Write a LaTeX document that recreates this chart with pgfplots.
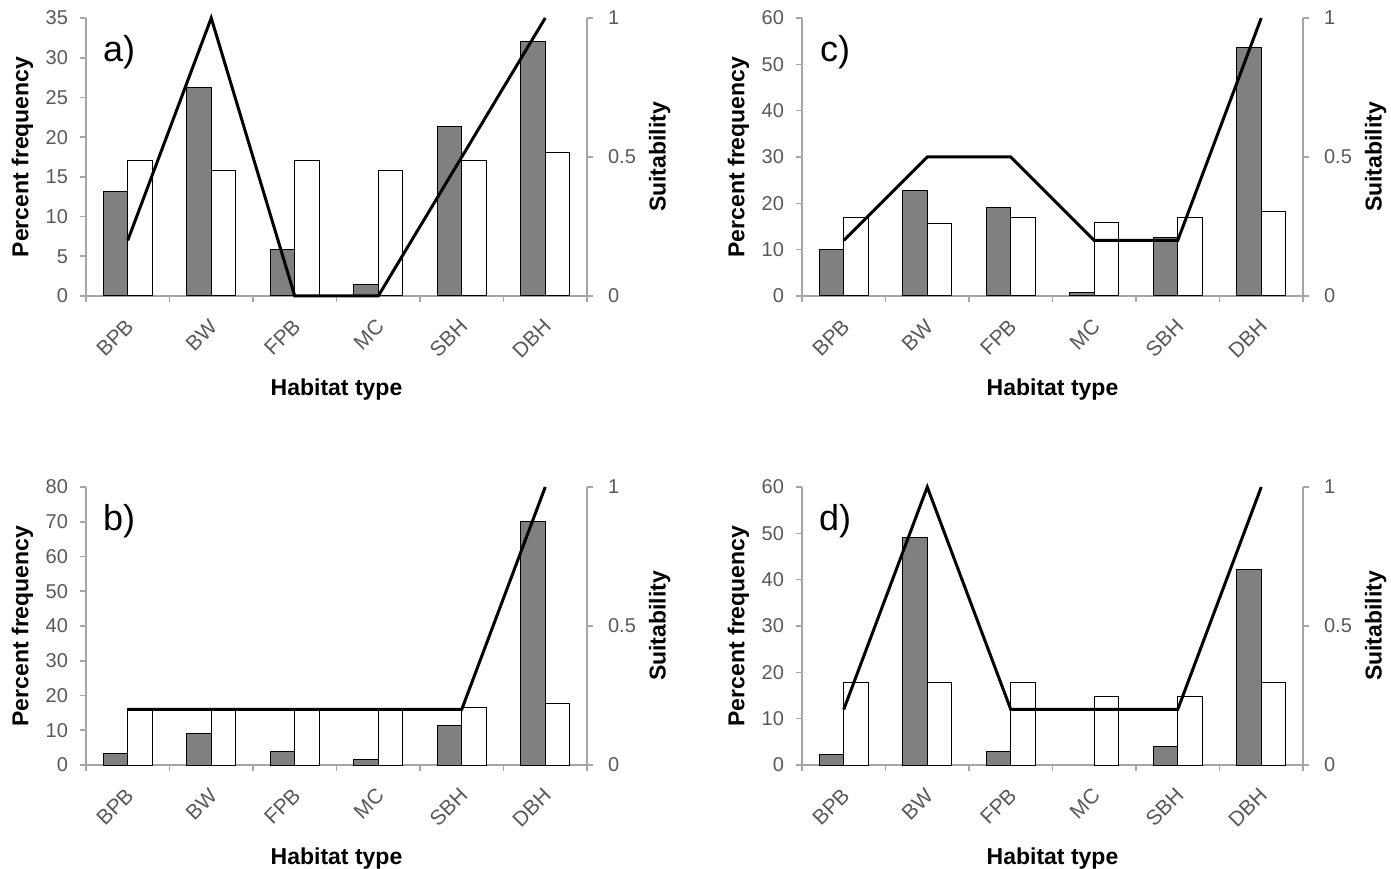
\documentclass[border=0pt]{standalone}
\usepackage{fontspec}
\setmainfont{Liberation Sans}
\usepackage{pgfplots}
\pgfplotsset{compat=1.18}
\definecolor{axgray}{HTML}{A6A6A6}
\definecolor{tickgray}{HTML}{595959}
\definecolor{barg}{HTML}{808080}

\pgfplotsset{
 base/.style={
  scale only axis, width=250.5pt, height=139pt,
  xmin=-0.5, xmax=5.5,
  anchor=south west,
  /pgf/number format/assume math mode=true,
  tick align=outside,
  axis line style={axgray, line width=0.8pt},
  tick style={axgray, line width=0.8pt},
  major tick length=3pt,
  minor tick length=3pt,
  ticklabel style={font=\fontsize{10}{11}\selectfont, text=tickgray},
  label style={font=\fontsize{11.5}{13}\selectfont\bfseries},
 },
 leftax/.style={base,
  axis y line*=left, axis x line*=bottom,
  xtick={0,...,5}, xticklabels={BPB,BW,FPB,MC,SBH,DBH},
  major x tick style={draw=none},
  minor xtick={-0.5,0.5,...,5.5},
  xticklabel style={font=\fontsize{10.5}{11}\selectfont, xshift=3.5pt, yshift=-8pt, rotate=45, anchor=east},
  yticklabel style={xshift=-2.5pt},
  xlabel={Habitat type}, ylabel={Percent frequency},
  xlabel style={at={(axis description cs:0.5,-0.335)}, anchor=center},
  ylabel style={at={(axis description cs:-0.127,0.5)}, anchor=center},
  ymin=0,
  bar width=0.295,
 },
 rightax/.style={base,
  axis y line*=right, axis x line=none,
  ymin=0, ymax=1, ytick={0,0.5,1},
  yticklabel style={xshift=4pt},
  ylabel={Suitability},
  ylabel style={at={(axis description cs:1.145,0.5)}, anchor=center},
  clip=false,
 },
 gbar/.style={ybar, bar shift=-0.1475, fill=barg, draw=black, line width=0.5pt},
 wbar/.style={ybar, bar shift=0.1475, fill=white, draw=black, line width=0.5pt},
 sline/.style={black, line width=1.5pt, mark=none},
}
\newcommand{\panel}[1]{\node[font=\fontsize{18}{20}\selectfont] at (rel axis cs:0.066,0.878) {#1};}

\begin{document}
\begin{tikzpicture}
\useasboundingbox (0,0) rectangle (695.5pt,434pt);
% ---- a)
\begin{axis}[leftax, at={(43pt,286pt)}, ymax=35, ytick={0,5,...,35}]
\addplot[gbar] coordinates {(0,13.2) (1,26.3) (2,5.8) (3,1.5) (4,21.3) (5,32.0)};
\addplot[wbar] coordinates {(0,17) (1,15.8) (2,17) (3,15.8) (4,17) (5,18.1)};
\panel{a)}
\end{axis}
\begin{axis}[rightax, at={(43pt,286pt)}]
\addplot[sline] coordinates {(0,0.2) (1,1) (2,0) (3,0) (4,0.5) (5,1)};
\end{axis}
% ---- c)
\begin{axis}[leftax, at={(401pt,286pt)}, ymax=60, ytick={0,10,...,60}]
\addplot[gbar] coordinates {(0,10) (1,22.7) (2,19.2) (3,0.7) (4,12.7) (5,53.7)};
\addplot[wbar] coordinates {(0,17) (1,15.7) (2,17) (3,15.8) (4,17) (5,18.3)};
\panel{c)}
\end{axis}
\begin{axis}[rightax, at={(401pt,286pt)}]
\addplot[sline] coordinates {(0,0.2) (1,0.5) (2,0.5) (3,0.2) (4,0.2) (5,1)};
\end{axis}
% ---- b)
\begin{axis}[leftax, at={(43pt,51.5pt)}, ymax=80, ytick={0,10,...,80}]
\addplot[gbar] coordinates {(0,3.3) (1,9) (2,3.8) (3,1.5) (4,11.3) (5,70)};
\addplot[wbar] coordinates {(0,16.3) (1,15.7) (2,16.3) (3,15.7) (4,16.5) (5,17.8)};
\panel{b)}
\end{axis}
\begin{axis}[rightax, at={(43pt,51.5pt)}]
\addplot[sline] coordinates {(0,0.2) (1,0.2) (2,0.2) (3,0.2) (4,0.2) (5,1)};
\end{axis}
% ---- d)
\begin{axis}[leftax, at={(401pt,51.5pt)}, ymax=60, ytick={0,10,...,60}]
\addplot[gbar] coordinates {(0,2.2) (1,49.2) (2,3) (4,4) (5,42.3)};
\addplot[wbar] coordinates {(0,17.8) (1,17.8) (2,17.8) (3,14.8) (4,14.8) (5,17.8)};
\panel{d)}
\end{axis}
\begin{axis}[rightax, at={(401pt,51.5pt)}]
\addplot[sline] coordinates {(0,0.2) (1,1) (2,0.2) (3,0.2) (4,0.2) (5,1)};
\end{axis}
\end{tikzpicture}
\end{document}
